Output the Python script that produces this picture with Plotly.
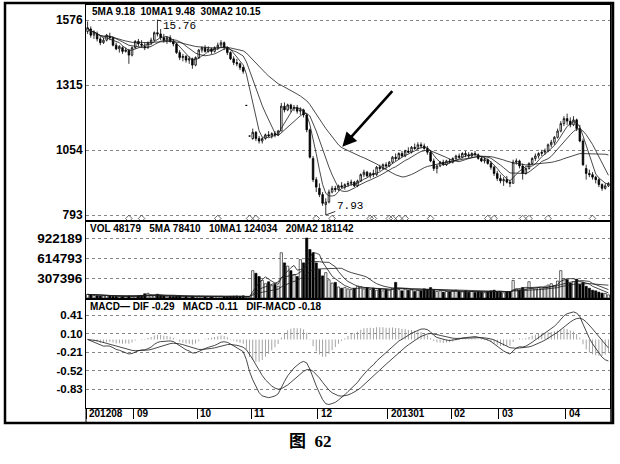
import numpy as np
import pandas as pd
import plotly.graph_objects as go
from plotly.subplots import make_subplots

# ---------------- data ----------------
open_p = [15.30,15.40,15.15,15.20,15.00,14.85,14.95,15.10,15.05,14.75,
          14.60,14.65,14.50,14.55,14.35,14.65,14.90,14.80,14.70,14.65,
          14.85,14.95,15.25,15.20,15.05,14.95,15.05,14.90,14.80,14.45,
          14.25,14.30,14.15,14.20,13.95,14.25,14.55,14.65,14.50,14.60,
          14.50,14.65,14.75,14.85,14.65,14.45,14.20,14.05,14.00,13.85,
          12.33,11.10,11.00,11.25,11.00,10.90,11.00,11.15,11.10,11.20,
          11.15,11.30,12.30,12.15,12.35,12.20,12.25,12.10,12.15,11.95,
          11.35,10.20,9.35,9.00,8.75,8.35,8.45,8.85,9.00,8.95,
          9.10,9.05,9.15,9.20,9.25,9.10,9.30,9.55,9.65,9.50,
          9.60,9.55,9.85,9.80,9.95,9.90,10.05,10.25,10.20,10.40,
          10.30,10.50,10.45,10.65,10.60,10.75,10.70,10.60,10.45,10.10,
          9.80,9.90,10.05,9.95,10.10,10.05,10.20,10.30,10.25,10.40,
          10.35,10.30,10.40,10.35,10.20,10.10,10.15,10.00,9.85,9.60,
          9.40,9.30,9.35,9.25,9.20,10.05,10.10,9.90,9.60,9.80,
          10.00,10.20,10.30,10.40,10.45,10.50,10.75,10.85,11.05,11.30,
          11.60,11.80,11.70,11.55,11.75,11.40,10.90,9.80,9.60,9.55,
          9.45,9.35,9.15,9.00,9.10]
high_p = [15.70,15.50,15.35,15.30,15.10,15.05,15.20,15.25,15.10,14.85,
          14.75,14.70,14.65,14.60,14.70,14.95,15.00,14.95,14.85,14.90,
          15.05,15.30,15.76,15.40,15.20,15.10,15.15,15.00,14.85,14.55,
          14.40,14.35,14.30,14.25,14.30,14.60,14.70,14.75,14.70,14.65,
          14.70,14.85,14.95,14.90,14.70,14.50,14.30,14.20,14.05,13.90,
          12.33,11.10,11.40,11.30,11.10,11.05,11.20,11.30,11.25,11.30,
          11.35,12.43,12.45,12.40,12.40,12.35,12.35,12.25,12.20,12.00,
          11.40,10.30,9.45,9.20,8.85,8.60,8.95,9.10,9.10,9.15,
          9.25,9.20,9.30,9.35,9.30,9.35,9.60,9.75,9.70,9.65,
          9.75,9.90,9.95,10.00,10.05,10.10,10.30,10.40,10.45,10.50,
          10.55,10.65,10.70,10.80,10.85,10.85,10.80,10.70,10.50,10.20,
          9.95,10.10,10.15,10.15,10.20,10.25,10.35,10.40,10.45,10.50,
          10.45,10.45,10.50,10.40,10.30,10.25,10.20,10.10,9.90,9.70,
          9.55,9.45,9.50,9.35,10.15,10.20,10.15,10.00,9.85,10.05,
          10.25,10.40,10.45,10.55,10.60,10.80,10.95,11.10,11.40,11.70,
          11.90,12.00,11.85,11.90,11.80,11.55,11.00,9.95,9.75,9.65,
          9.50,9.40,9.20,9.20,9.25]
low_p = [15.20,15.05,15.00,14.90,14.75,14.80,14.90,14.95,14.70,14.55,
         14.45,14.40,14.45,14.00,14.30,14.60,14.70,14.65,14.55,14.60,
         14.75,14.90,15.10,14.95,14.85,14.80,14.85,14.70,14.40,14.15,
         14.10,14.05,14.00,13.80,13.90,14.20,14.45,14.45,14.45,14.40,
         14.45,14.55,14.65,14.55,14.35,14.15,13.95,13.90,13.75,13.60,
         12.33,11.10,10.95,10.90,10.80,10.80,10.95,11.05,11.00,11.05,
         11.10,11.30,12.05,12.10,12.05,12.10,12.00,11.95,11.85,11.25,
         10.20,9.25,8.85,8.65,8.30,7.93,8.40,8.80,8.85,8.90,
         9.00,8.95,9.05,9.10,9.05,9.05,9.25,9.45,9.45,9.40,
         9.45,9.50,9.70,9.75,9.80,9.85,10.00,10.10,10.15,10.25,
         10.25,10.40,10.40,10.55,10.55,10.60,10.55,10.35,10.05,9.70,
         9.60,9.85,9.90,9.90,10.00,10.00,10.10,10.20,10.20,10.25,
         10.20,10.25,10.30,10.15,10.05,10.00,9.95,9.75,9.50,9.30,
         9.20,9.10,9.20,9.05,9.20,9.95,9.80,9.35,9.55,9.75,
         9.95,10.10,10.20,10.30,10.35,10.45,10.65,10.75,11.00,11.25,
         11.50,11.55,11.45,11.50,11.30,10.85,9.90,9.35,9.45,9.35,
         9.20,9.05,8.90,8.95,9.05]
close_p = [15.45,15.15,15.25,15.00,14.85,14.95,15.15,15.05,14.75,14.60,
           14.70,14.50,14.55,14.35,14.65,14.90,14.80,14.75,14.65,14.85,
           14.95,15.25,15.20,15.05,14.95,15.05,14.90,14.80,14.45,14.25,
           14.30,14.15,14.20,13.95,14.25,14.55,14.65,14.50,14.60,14.50,
           14.65,14.75,14.85,14.65,14.45,14.20,14.05,14.00,13.85,13.70,
           12.33,11.10,11.25,11.00,10.90,11.00,11.15,11.10,11.20,11.15,
           11.30,12.30,12.15,12.35,12.20,12.25,12.10,12.15,11.95,11.35,
           10.25,9.35,9.05,8.75,8.40,8.45,8.85,9.00,8.95,9.10,
           9.05,9.15,9.20,9.25,9.10,9.30,9.55,9.65,9.50,9.60,
           9.55,9.85,9.80,9.95,9.90,10.05,10.25,10.20,10.40,10.30,
           10.50,10.45,10.65,10.60,10.75,10.70,10.60,10.45,10.10,9.80,
           9.90,10.05,9.95,10.10,10.05,10.20,10.30,10.25,10.40,10.35,
           10.30,10.40,10.35,10.20,10.10,10.15,10.00,9.85,9.60,9.40,
           9.30,9.35,9.25,9.20,10.05,10.10,9.90,9.60,9.80,10.00,
           10.20,10.30,10.40,10.45,10.50,10.75,10.85,11.05,11.30,11.60,
           11.80,11.70,11.55,11.75,11.40,10.90,9.95,9.60,9.55,9.45,
           9.35,9.15,9.00,9.10,9.20]
volume = [55000,48000,40000,35000,30000,32000,36000,30000,26000,24000,
          22000,25000,23000,30000,26000,28000,32000,40000,65000,72000,
          48000,42000,58000,40000,32000,28000,26000,24000,30000,32000,
          27000,24000,22000,26000,24000,28000,26000,22000,24000,20000,
          22000,24000,26000,22000,24000,27000,30000,32000,28000,34000,
          8000,12000,
          420000,380000,330000,270000,220000,250000,190000,210000,180000,695000,
          540000,490000,420000,360000,330000,590000,540000,922189,745000,695000,
          540000,
          440000,340000,390000,280000,230000,240000,170000,150000,160000,140000,
          130000,150000,180000,170000,140000,160000,130000,150000,120000,140000,
          110000,130000,
          120000,150000,240000,130000,110000,140000,120000,130000,100000,120000,
          110000,140000,130000,160000,120000,100000,110000,90000,100000,95000,
          110000,120000,100000,95000,110000,90000,100000,85000,95000,90000,
          80000,100000,110000,120000,100000,
          90000,80000,95000,100000,270000,140000,120000,160000,130000,250000,
          150000,140000,160000,150000,180000,200000,220000,190000,260000,420000,
          300000,
          280000,230000,250000,290000,210000,240000,180000,150000,120000,110000,
          90000,75000,70000,48179]
signal_days = [13, 17, 41, 51, 53, 72, 77, 89, 90, 95, 96, 98, 100, 108,
               126, 128, 137, 139, 145, 159]
month_start = [0, 15, 35, 52, 73, 95, 115, 130, 151]
month_labels = ["201208", "09", "10", "11", "12", "201301", "02", "03", "04"]
price_ticks = [15.76, 13.15, 10.54, 7.93]
vol_ticks = [922189, 614793, 307396]
macd_ticks = [0.41, 0.10, -0.21, -0.52, -0.83]
price_header = "5MA 9.18  10MA1 9.48  30MA2 10.15"
vol_header = "VOL 48179   5MA 78410   10MA1 124034   20MA2 181142"
macd_header = "MACD— DIF -0.29   MACD -0.11   DIF-MACD -0.18"
high_label = "15.76"
low_label = "7.93"
caption = "图&nbsp;&nbsp;62"

# ---------------- indicators (derived from the closes / volumes) ----------------
n = len(close_p)
day = list(range(n))
c = pd.Series(close_p)
v = pd.Series(volume, dtype=float)
ma5 = c.rolling(5, min_periods=1).mean()
ma10 = c.rolling(10, min_periods=1).mean()
ma30 = c.rolling(30, min_periods=1).mean()
vma5 = v.rolling(5, min_periods=1).mean()
vma10 = v.rolling(10, min_periods=1).mean()
vma20 = v.rolling(20, min_periods=1).mean()
dif = c.ewm(span=12, adjust=False).mean() - c.ewm(span=26, adjust=False).mean()
dea = dif.ewm(span=9, adjust=False).mean()
hist = dif - dea

# ---------------- geometry helpers ----------------
W, H = 620, 464
def fx(p):
    return p / W
def fy(p):
    return 1 - p / H

X0, X1 = 86, 610
P_TOP, P_BOT = 5, 221
V_BOT = 299
M_BOT = 408

fig = make_subplots(rows=3, cols=1, shared_xaxes=True, vertical_spacing=0)

LINE = dict(color="#1a1a1a", width=0.8)

fig.add_trace(go.Candlestick(
    x=day, open=open_p, high=high_p, low=low_p, close=close_p,
    increasing=dict(line=dict(color="black", width=0.8), fillcolor="white"),
    decreasing=dict(line=dict(color="black", width=0.8), fillcolor="black"),
    whiskerwidth=0, showlegend=False), row=1, col=1)
for s in (ma5, ma10, ma30):
    fig.add_trace(go.Scatter(x=day, y=s, mode="lines", line=LINE,
                             showlegend=False), row=1, col=1)

kp = (price_ticks[0] - price_ticks[-1]) / (215 - 20)
sig_level = price_ticks[-1] - 3.5 * kp
fig.add_trace(go.Scatter(x=signal_days, y=[sig_level] * len(signal_days),
                         mode="markers",
                         marker=dict(symbol="diamond-open", size=5, color="#444",
                                     line=dict(width=0.8)),
                         showlegend=False), row=1, col=1)

vcolors = ["white" if cl >= op else "black" for op, cl in zip(open_p, close_p)]
fig.add_trace(go.Bar(x=day, y=volume, width=0.72,
                     marker=dict(color=vcolors, line=dict(color="black", width=0.6)),
                     showlegend=False), row=2, col=1)
for s in (vma5, vma10, vma20):
    fig.add_trace(go.Scatter(x=day, y=s, mode="lines", line=LINE,
                             showlegend=False), row=2, col=1)

fig.add_trace(go.Bar(x=day, y=hist, width=0.28, marker=dict(color="#9a9a9a", line=dict(width=0)),
                     showlegend=False), row=3, col=1)
for s in (dif, dea):
    fig.add_trace(go.Scatter(x=day, y=s, mode="lines", line=LINE,
                             showlegend=False), row=3, col=1)

kv = vol_ticks[0] / (298 - 238)
km = (macd_ticks[0] - macd_ticks[-1]) / (389 - 315)
p_range = [price_ticks[-1] - (P_BOT - 215) * kp, price_ticks[0] + (20 - P_TOP) * kp]
v_range = [-(V_BOT - 298) * kv, vol_ticks[0] + (238 - P_BOT) * kv]
m_range = [macd_ticks[-1] - (M_BOT - 389) * km, macd_ticks[0] + (315 - V_BOT) * km]

def tickfont(size):
    return dict(family="Liberation Sans, Arial, sans-serif", size=size, color="black")
common_y = dict(showgrid=True, gridcolor="#666", griddash="dot", gridwidth=0.8,
                zeroline=False, showline=True, mirror=True, linecolor="black",
                linewidth=1, ticks="", fixedrange=True)

fig.update_layout(
    width=W, height=H, autosize=False,
    margin=dict(l=0, r=0, t=0, b=0),
    paper_bgcolor="white", plot_bgcolor="white",
    hovermode=False, showlegend=False, barmode="overlay",
    yaxis=dict(domain=[fy(P_BOT), fy(P_TOP)], range=p_range,
               tickvals=price_ticks, tickfont=tickfont(12),
               ticktext=["<b>%d</b>" % round(t * 100) for t in price_ticks], **common_y),
    yaxis2=dict(domain=[fy(V_BOT), fy(P_BOT)], range=v_range, tickfont=tickfont(13.5),
                tickvals=vol_ticks, ticktext=["<b>%d</b>" % t for t in vol_ticks], **common_y),
    yaxis3=dict(domain=[fy(M_BOT), fy(V_BOT)], range=m_range, tickfont=tickfont(11.5),
                tickvals=macd_ticks, ticktext=["<b>%.2f</b>" % t for t in macd_ticks], **common_y),
)
common_x = dict(domain=[fx(X0), fx(X1)], range=[-0.5, n - 0.5], showgrid=False,
                zeroline=False, showline=True, mirror=True, linecolor="black",
                linewidth=1, showticklabels=False, rangeslider=dict(visible=False),
                fixedrange=True)
fig.update_layout(xaxis=dict(**common_x, ticks=""),
                  xaxis2=dict(**common_x, ticks=""),
                  xaxis3=dict(**common_x, ticks="outside", ticklen=10, tickwidth=1,
                              tickcolor="black",
                              tickvals=[m - 0.5 for m in month_start]))

HFONT = dict(family="Liberation Sans, Arial, sans-serif", size=10, color="black")
ann = []
ann.append(dict(x=fx(90), y=fy(12), xref="paper", yref="paper", text="<b>%s</b>" % price_header,
                xanchor="left", yanchor="middle", showarrow=False, font=HFONT))
ann.append(dict(x=fx(88), y=fy(228), xref="paper", yref="paper", text="<b>%s</b>" % vol_header,
                xanchor="left", yanchor="middle", showarrow=False, font=HFONT))
ann.append(dict(x=fx(88), y=fy(306), xref="paper", yref="paper", text="<b>%s</b>" % macd_header,
                xanchor="left", yanchor="middle", showarrow=False, font=HFONT))
for m, lab in zip(month_start, month_labels):
    ann.append(dict(x=m - 0.5, y=fy(413), xref="x3", yref="paper", text="<b>%s</b>" % lab,
                    xanchor="left", yanchor="middle", xshift=1, showarrow=False,
                    font=dict(family="Liberation Sans, Arial, sans-serif", size=10, color="black")))
ih = int(np.argmax(high_p))
il = int(np.argmin(low_p))
ann.append(dict(x=ih, y=high_p[ih], xref="x", yref="y", text=high_label, showarrow=True,
                arrowhead=0, arrowwidth=0.8, arrowcolor="black", ax=22, ay=6,
                font=dict(family="Liberation Mono, monospace", size=11, color="black")))
ann.append(dict(x=il, y=low_p[il], xref="x", yref="y", text=low_label, showarrow=True,
                arrowhead=0, arrowwidth=0.8, arrowcolor="black", ax=24, ay=-9,
                font=dict(family="Liberation Mono, monospace", size=11, color="black")))
ia = 80
ann.append(dict(x=ia, y=float(ma30[ia]), xref="x", yref="y", text="", showarrow=True,
                arrowhead=2, arrowsize=1.1, arrowwidth=2.6, arrowcolor="black",
                ax=52, ay=-58, standoff=1))
ann.append(dict(x=0.5, y=fy(441), xref="paper", yref="paper", text="<b>%s</b>" % caption,
                showarrow=False, xanchor="center", yanchor="middle",
                font=dict(family="Liberation Serif, Noto Sans CJK SC, serif", size=17,
                          color="black")))
fig.update_layout(annotations=ann)

shapes = [
    dict(type="rect", xref="paper", yref="paper", x0=fx(5), x1=fx(613), y0=fy(423), y1=fy(3),
         line=dict(color="black", width=2.5)),
    dict(type="line", xref="paper", yref="paper", x0=fx(X0), x1=fx(X0), y0=fy(423), y1=fy(M_BOT),
         line=dict(color="black", width=1)),
    dict(type="line", xref="paper", yref="paper", x0=fx(X1 + 1), x1=fx(X1 + 1), y0=fy(423), y1=fy(3),
         line=dict(color="black", width=1.5)),
]
fig.update_layout(shapes=shapes)

fig.write_html("out.html", config={"displayModeBar": False, "staticPlot": True},
               post_script="document.body.style.margin='0';")
